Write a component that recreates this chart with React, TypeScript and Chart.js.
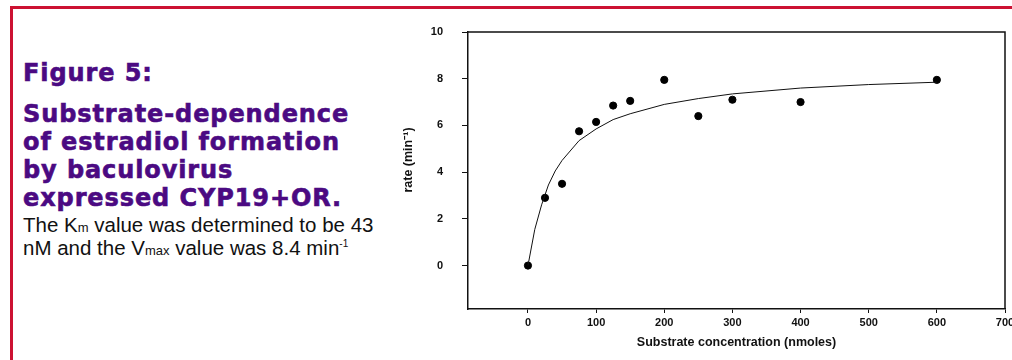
import React, { useEffect, useRef } from "react";
import { Chart, registerables } from "chart.js";

Chart.register(...registerables);

// Measured data points
const concentrations = [0, 25, 50, 75, 100, 125, 150, 200, 250, 300, 400, 600];
const rates = [0.0, 2.9, 3.5, 5.75, 6.15, 6.85, 7.05, 7.95, 6.4, 7.1, 7.0, 7.95];

// Fitted curve
const fitX = [0, 10, 20, 30, 40, 50, 75, 100, 125, 150, 200, 250, 300, 400, 500, 600];
const fitY = [0, 1.55, 2.6, 3.45, 4.05, 4.5, 5.35, 5.85, 6.25, 6.5, 6.9, 7.15, 7.35, 7.6, 7.75, 7.85];

// Axis ranges and ticks
const xMin = -88;
const xMax = 700;
const xTicks = [0, 100, 200, 300, 400, 500, 600, 700];
const yMin = -1.86;
const yMax = 10;
const yTicks = [0, 2, 4, 6, 8, 10];
const xTitle = "Substrate concentration (nmoles)";
const yTitle = "rate (min⁻¹)";

const FONT_FAMILY = "'Liberation Sans', Arial, sans-serif";

const frame = {
  id: "frame",
  afterDraw(chart: any) {
    const { ctx, chartArea } = chart;
    ctx.save();
    ctx.strokeStyle = "#111";
    ctx.lineWidth = 1.5;
    ctx.beginPath();
    ctx.moveTo(chartArea.left, chartArea.top);
    ctx.lineTo(chartArea.right, chartArea.top);
    ctx.lineTo(chartArea.right, chartArea.bottom);
    ctx.stroke();
    // y-axis title
    ctx.fillStyle = "#111";
    ctx.font = `bold 12.5px ${FONT_FAMILY}`;
    ctx.textAlign = "center";
    ctx.textBaseline = "middle";
    ctx.translate(9, 160);
    ctx.rotate(-Math.PI / 2);
    ctx.fillText(yTitle, 0, 0);
    ctx.restore();
  },
};

function ChartView() {
  const ref = useRef<HTMLCanvasElement>(null);
  useEffect(() => {
    const canvas = ref.current!;
    const font = { family: FONT_FAMILY, size: 11, weight: "bold" as const };
    const chart = new Chart(canvas, {
      type: "scatter",
      data: {
        datasets: [
          {
            data: fitX.map((x, i) => ({ x, y: fitY[i] })),
            showLine: true,
            borderColor: "#111",
            borderWidth: 1,
            pointRadius: 0,
            tension: 0,
          },
          {
            data: concentrations.map((x, i) => ({ x, y: rates[i] })),
            backgroundColor: "#000",
            borderColor: "#000",
            pointRadius: 3.6,
            showLine: false,
          },
        ],
      },
      options: {
        responsive: false,
        animation: false,
        devicePixelRatio: 1,
        layout: { padding: { left: 0, top: 32, right: 7, bottom: 0 } },
        plugins: { legend: { display: false }, tooltip: { enabled: false } },
        scales: {
          x: {
            type: "linear",
            min: xMin,
            max: xMax,
            afterBuildTicks: (s: any) => {
              s.ticks = xTicks.map((v) => ({ value: v }));
            },
            afterFit: (s: any) => {
              s.height = 51;
              s.paddingLeft = 0;
              s.paddingRight = 0;
            },
            border: { display: true, color: "#111", width: 1.5 },
            grid: { display: true, drawOnChartArea: false, tickLength: 4, color: "#111" },
            ticks: { color: "#111", font, padding: 3, maxRotation: 0 },
            title: {
              display: true,
              text: xTitle,
              color: "#111",
              font: { ...font, size: 12.5 },
              padding: { top: 0, bottom: 10 },
            },
          },
          y: {
            type: "linear",
            min: yMin,
            max: yMax,
            afterBuildTicks: (s: any) => {
              s.ticks = yTicks.map((v) => ({ value: v }));
            },
            afterFit: (s: any) => {
              s.width = 68;
              s.paddingTop = 0;
              s.paddingBottom = 0;
            },
            border: { display: true, color: "#111", width: 1.5 },
            grid: { display: true, drawOnChartArea: false, tickLength: 6, color: "#111" },
            ticks: { color: "#111", font, padding: 19 },
            title: { display: false },
          },
        },
      },
      plugins: [frame],
    });
    return () => chart.destroy();
  }, []);
  return (
    <canvas
      ref={ref}
      width={612}
      height={360}
      style={{ position: "absolute", left: 400, top: 0, width: 612, height: 360 }}
    />
  );
}

export default function App() {
  const purple = "#4B0A82";
  const head: React.CSSProperties = {
    position: "absolute",
    left: 23,
    fontFamily: "'DejaVu Sans', sans-serif",
    fontWeight: "bold",
    fontSize: 24,
    letterSpacing: "0.9px",
    lineHeight: "28px",
    color: purple,
    WebkitTextStroke: `0.6px ${purple}`,
    whiteSpace: "nowrap",
    margin: 0,
  };
  const body: React.CSSProperties = {
    position: "absolute",
    left: 23,
    top: 215,
    fontFamily: "'Liberation Sans', Arial, sans-serif",
    fontSize: 20.5,
    lineHeight: "20px",
    color: "#111",
    whiteSpace: "nowrap",
  };
  const small: React.CSSProperties = { fontSize: 13 };
  return (
    <div
      style={{
        position: "fixed",
        left: 0,
        top: 0,
        width: 1012,
        height: 360,
        overflow: "hidden",
        background: "#fff",
      }}
    >
      <div
        style={{
          position: "absolute",
          left: 10,
          top: 6,
          width: 1100,
          height: 400,
          borderLeft: "3px solid #CC1232",
          borderTop: "3px solid #CC1232",
        }}
      />
      <div style={{ ...head, top: 59 }}>Figure 5:</div>
      <div style={{ ...head, top: 100 }}>
        Substrate-dependence
        <br />
        of estradiol formation
        <br />
        by baculovirus
        <br />
        expressed CYP19+OR.
      </div>
      <div style={body}>
        The K<span style={small}>m</span> value was determined to be 43
        <br />
        nM and the V<span style={small}>max</span> value was 8.4 min
        <sup style={{ fontSize: 10, verticalAlign: "8px", lineHeight: 0 }}>-1</sup>
      </div>
      <ChartView />
    </div>
  );
}
